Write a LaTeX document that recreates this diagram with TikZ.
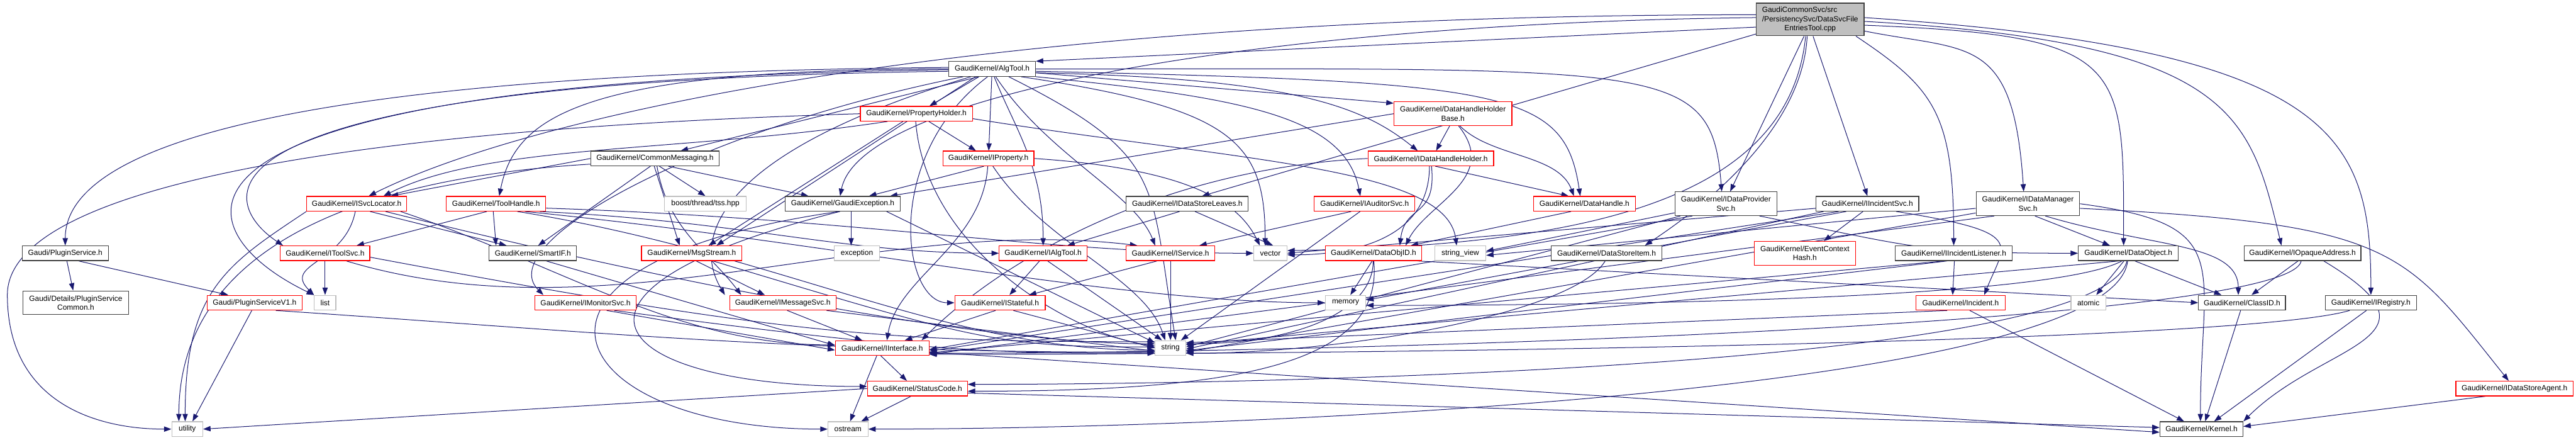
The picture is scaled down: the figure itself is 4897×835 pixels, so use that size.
\documentclass[tikz,border=0pt]{standalone}
\usepackage{fontspec}
\setmainfont{Liberation Sans}
\usetikzlibrary{arrows.meta}
\pgfdeclarelayer{bg}
\pgfsetlayers{bg,main}
\definecolor{edgec}{HTML}{191970}
\definecolor{boxk}{HTML}{404040}
\definecolor{boxr}{HTML}{FF0000}
\definecolor{boxg}{HTML}{BFBFBF}
\newcommand{\nfont}{\fontsize{14.3}{17}\selectfont}
\tikzset{
  nd/.style={draw=boxk, line width=1.4pt, fill=white, inner sep=0pt, align=center, font=\nfont, minimum height=28pt},
  rd/.style={nd, draw=boxr},
  gy/.style={nd, draw=boxg},
  two/.style={minimum height=45pt},
  e/.style={draw=edgec, line width=1.2pt, -{Triangle[length=14pt,width=10pt]}},
}
\begin{document}
\begin{tikzpicture}[x=1pt,y=-1pt]
\useasboundingbox (0,0) rectangle (4897,835);
% ---------- nodes ----------
\node[nd, fill=boxg, minimum width=205pt, minimum height=62pt] (root) at (3441,37) {\rlap{GaudiCommonSvc/src}\phantom{/PersistencySvc/DataSvcFile}\\/PersistencySvc/DataSvcFile\\EntriesTool.cpp};
\node[nd, minimum width=165pt] (algtool) at (1886,131) {GaudiKernel/AlgTool.h};
\node[rd, minimum width=213pt] (propholder) at (1742,216) {GaudiKernel/PropertyHolder.h};
\node[rd, two, minimum width=224pt] (dhhb) at (2762,216) {GaudiKernel/DataHandleHolder\\Base.h};
\node[nd, minimum width=244pt] (commsg) at (1245,301) {GaudiKernel/CommonMessaging.h};
\node[rd, minimum width=173pt] (iprop) at (1879,301) {GaudiKernel/IProperty.h};
\node[rd, minimum width=239pt] (idhh) at (2720,301) {GaudiKernel/IDataHandleHolder.h};
\node[rd, minimum width=190pt] (isvcloc) at (678,387) {GaudiKernel/ISvcLocator.h};
\node[rd, minimum width=189pt] (toolhandle) at (943,387) {GaudiKernel/ToolHandle.h};
\node[gy, minimum width=155pt] (boost) at (1341,387) {boost/thread/tss.hpp};
\node[nd, minimum width=218pt] (gexc) at (1602,387) {GaudiKernel/GaudiException.h};
\node[nd, minimum width=232pt] (idsl) at (2257,387) {GaudiKernel/IDataStoreLeaves.h};
\node[rd, minimum width=191pt] (iaud) at (2594,387) {GaudiKernel/IAuditorSvc.h};
\node[rd, minimum width=194pt] (dh) at (3012,387) {GaudiKernel/DataHandle.h};
\node[nd, two, minimum width=194pt] (idps) at (3281,387) {GaudiKernel/IDataProvider\\Svc.h};
\node[nd, minimum width=195pt] (iis) at (3550,387) {GaudiKernel/IIncidentSvc.h};
\node[nd, two, minimum width=197pt] (idms) at (3855,387) {GaudiKernel/IDataManager\\Svc.h};
\node[nd, minimum width=164pt] (plugin) at (124,481) {Gaudi/PluginService.h};
\node[rd, minimum width=170pt] (itoolsvc) at (618,481) {GaudiKernel/IToolSvc.h};
\node[nd, minimum width=166pt] (smartif) at (1013,481) {GaudiKernel/SmartIF.h};
\node[rd, minimum width=191pt] (msgstream) at (1315,481) {GaudiKernel/MsgStream.h};
\node[gy, minimum width=86pt] (exception) at (1629,481) {exception};
\node[rd, minimum width=167pt] (ialgtool) at (1983,481) {GaudiKernel/IAlgTool.h};
\node[rd, minimum width=169pt] (iservice) at (2225,481) {GaudiKernel/IService.h};
\node[gy, minimum width=63pt] (vector) at (2415,481) {vector};
\node[rd, minimum width=183pt] (dataobjid) at (2611,481) {GaudiKernel/DataObjID.h};
\node[gy, minimum width=97pt] (strview) at (2776,481) {string\_view};
\node[nd, minimum width=211pt] (dsi) at (3054,481) {GaudiKernel/DataStoreItem.h};
\node[rd, two, minimum width=193pt] (ech) at (3431,481) {GaudiKernel/EventContext\\Hash.h};
\node[nd, minimum width=223pt] (iil) at (3714,481) {GaudiKernel/IIncidentListener.h};
\node[nd, minimum width=190pt] (dataobject) at (4046,481) {GaudiKernel/DataObject.h};
\node[nd, minimum width=222pt] (ioa) at (4377,481) {GaudiKernel/IOpaqueAddress.h};
\node[nd, two, minimum width=201pt] (pscommon) at (144,575) {Gaudi/Details/PluginService\\Common.h};
\node[rd, minimum width=181pt] (psv1) at (484,575) {Gaudi/PluginServiceV1.h};
\node[gy, minimum width=41pt] (list) at (618,575) {list};
\node[rd, minimum width=193pt] (imonsvc) at (1113,575) {GaudiKernel/IMonitorSvc.h};
\node[rd, minimum width=202pt] (imsgsvc) at (1488,575) {GaudiKernel/IMessageSvc.h};
\node[rd, minimum width=172pt] (istateful) at (1901,575) {GaudiKernel/IStateful.h};
\node[gy, minimum width=77pt] (memory) at (2558,575) {memory};
\node[rd, minimum width=169pt] (incident) at (3727,575) {GaudiKernel/Incident.h};
\node[gy, minimum width=66pt] (atomic) at (3970,575) {atomic};
\node[nd, minimum width=165pt] (classid) at (4262,575) {GaudiKernel/ClassID.h};
\node[nd, minimum width=173pt] (iregistry) at (4507,575) {GaudiKernel/IRegistry.h};
\node[rd, minimum width=178pt] (iinterface) at (1677,661) {GaudiKernel/IInterface.h};
\node[gy, minimum width=58pt] (string) at (2225,661) {string};
\node[rd, minimum width=190pt] (statuscode) at (1744,738) {GaudiKernel/StatusCode.h};
\node[rd, minimum width=223pt] (idsa) at (4780,738) {GaudiKernel/IDataStoreAgent.h};
\node[gy, minimum width=59pt] (utility) at (356,815) {utility};
\node[gy, minimum width=76pt] (ostream) at (1612,815) {ostream};
\node[nd, minimum width=158pt] (kernel) at (4185,815) {GaudiKernel/Kernel.h};
\coordinate (w1) at (14,560);
% ---------- edges ----------
\begin{pgfonlayer}{bg}
\fill[white] (0,0) rectangle (4897,835);
% root
\draw[e] (root.188) -- (algtool.10);
\draw[e] (root.178) .. controls +(-900,10) and +(40,-200) .. ([xshift=-5pt]gexc.north);
\draw[e] (root.175) .. controls +(-1500,0) and +(300,-150) .. ([xshift=23pt]isvcloc.north);
\draw[e] (root.195) -- ([xshift=28pt]idsl.north);
\draw[e] (root.-100) .. controls +(-10,200) and +(60,-40) .. ([xshift=73pt]dsi.north);
\draw[e] (root.-105) .. controls +(-30,300) and +(600,-10) .. ([yshift=5pt]vector.east);
\draw[e] (root.-110) -- ([xshift=8pt]idps.north);
\draw[e] (root.-80) -- (iis.north);
\draw[e] (root.-20) .. controls +(150,100) and +(0,-250) .. (iil.north);
\draw[e] (root.-12) .. controls +(200,40) and +(-20,-300) .. ([xshift=-8pt]idms.north);
\draw[e] (root.-6) .. controls +(500,20) and +(0,-350) .. ([xshift=-9pt]dataobject.north);
\draw[e] (root.-2) .. controls +(700,40) and +(-60,-250) .. ([xshift=-40pt]ioa.north);
\draw[e] (root.2) .. controls +(900,60) and +(0,-300) .. (iregistry.north);
% AlgTool
\draw[e] (algtool) -- (propholder);
\draw[e] (algtool) -- (iprop);
\draw[e] (algtool.-150) -- ([xshift=49pt]commsg.north);
\draw[e] (algtool.-5) -- (dhhb.170);
\draw[e] (algtool.-5) .. controls +(500,10) and +(-100,-80) .. ([xshift=-25pt]idhh.north);
\draw[e] (algtool.-10) .. controls +(400,40) and +(-30,-150) .. ([xshift=-8pt]iaud.north);
\draw[e] (algtool.-3) .. controls +(900,20) and +(-30,-200) .. ([xshift=-8pt]dh.north);
\draw[e] (algtool.0) .. controls +(1200,0) and +(-20,-250) .. ([xshift=-8pt]idps.north);
\draw[e] (algtool.180) .. controls +(-700,0) and +(30,-150) .. ([xshift=6pt]toolhandle.north);
\draw[e] (algtool.178) .. controls +(-1200,10) and +(0,-200) .. (plugin.north);
\draw[e] (algtool.181) .. controls +(-1600,20) and +(-250,-120) .. (list.north west);
\draw[e] (algtool.183) .. controls +(-1500,20) and +(-120,-80) .. ([xshift=-80pt]itoolsvc.north);
\draw[e] (algtool.-165) .. controls +(-500,100) and +(-100,-100) .. ([xshift=-80pt]imonsvc.north);
\draw[e] (algtool.-160) .. controls +(-500,150) and +(-60,-100) .. ([xshift=-110pt]imsgsvc.north);
\draw[e] (algtool.-155) -- ([xshift=47pt]msgstream.north);
\draw[e] (algtool.-120) .. controls +(-200,150) and +(-100,0) .. (istateful.west);
\draw[e] (algtool.-75) .. controls +(40,100) and +(0,-150) .. (ialgtool.north);
\draw[e] (algtool.-65) .. controls +(100,150) and +(-40,-100) .. ([xshift=-29pt]iservice.north);
\draw[e] (algtool.-15) .. controls +(400,60) and +(0,-200) .. ([xshift=-10pt]vector.north);
\draw[e] (algtool.-25) .. controls +(300,150) and +(-50,-300) .. ([xshift=10pt]string.north);
% PropertyHolder
\draw[e] (propholder) -- (iprop);
\draw[e] (propholder.west) .. controls +(-1000,30) and +(0,-200) .. (w1) .. controls +(0,200) and +(-150,0) .. (utility.west);
\draw[e] (propholder.-165) .. controls +(-400,60) and +(200,-100) .. ([xshift=51pt]isvcloc.north);
\draw[e] (propholder.-150) -- ([xshift=32pt]msgstream.north);
\draw[e] (propholder.-5) .. controls +(500,80) and +(-20,-150) .. ([xshift=-7pt]strview.north);
\draw[e] (propholder.-95) .. controls +(20,250) and +(-150,-20) .. ([yshift=4pt]string.west);
% DataHandleHolderBase
\draw[e] (dhhb.-105) -- ([xshift=10pt]idhh.north);
\draw[e] (dhhb.-60) .. controls +(60,60) and +(-30,-80) .. ([xshift=-20pt]dh.north);
\draw[e] (dhhb.west) -- ([xshift=90pt]gexc.north);
\draw[e] (dhhb.-65) .. controls +(80,100) and +(40,-80) .. ([xshift=61pt]dataobjid.north);
% CommonMessaging
\draw[e] (commsg.-60) -- (boost.north);
\draw[e] (commsg.-30) -- ([xshift=-65pt]gexc.north);
\draw[e] (commsg.west) -- ([xshift=65pt]isvcloc.north);
\draw[e] (commsg.-120) -- ([xshift=10pt]smartif.north);
\draw[e] (commsg.-95) -- ([xshift=-23pt]msgstream.north);
\draw[e] (commsg.-75) .. controls +(20,120) and +(-60,-80) .. ([xshift=-79pt]imsgsvc.north);
\draw[e] (commsg.185) .. controls +(-500,30) and +(0,-300) .. ([xshift=-16pt]utility.north);
% IProperty
\draw[e] (iprop.-120) -- ([xshift=50pt]gexc.north);
\draw[e] (iprop.-95) .. controls +(-10,150) and +(20,-120) .. ([xshift=9pt]iinterface.north);
\draw[e] (iprop.-60) .. controls +(100,150) and +(-40,-120) .. ([xshift=-10pt]string.north);
\draw[e] (iprop.east) .. controls +(300,20) and +(-40,-80) .. ([xshift=-20pt]vector.north);
% IDataHandleHolder
\draw[e] (idhh.-60) -- ([xshift=-30pt]dh.north);
\draw[e] (idhh.-85) .. controls +(10,100) and +(10,-80) .. ([xshift=50pt]dataobjid.north);
\draw[e] (idhh.west) .. controls +(-400,20) and +(150,-150) .. ([xshift=75pt]iinterface.north);
\draw[e] (idhh.-100) .. controls +(0,150) and +(100,0) .. ([yshift=-3pt]vector.east);
% ISvcLocator
\draw[e] (isvcloc.-100) .. controls +(-20,100) and +(-60,-60) .. (list.north west);
\draw[e] (isvcloc.-30) -- ([xshift=-50pt]smartif.north);
\draw[e] (isvcloc.-10) .. controls +(300,100) and +(-300,0) .. ([yshift=6pt]iinterface.west);
\draw[e] (isvcloc.-15) .. controls +(600,150) and +(-300,0) .. ([yshift=8pt]string.west);
\draw[e] (isvcloc.south west) .. controls +(-150,100) and +(0,-250) .. ([xshift=-4pt]utility.north);
% ToolHandle
\draw[e] (toolhandle.-140) -- ([xshift=60pt]itoolsvc.north);
\draw[e] (toolhandle.-10) .. controls +(400,20) and +(-300,0) .. (ialgtool.west);
\draw[e] (toolhandle.-110) -- ([xshift=-70pt]smartif.north);
\draw[e] (toolhandle.-5) .. controls +(600,20) and +(-400,0) .. (vector.west);
\draw[e] (toolhandle.-15) .. controls +(600,60) and +(-400,0) .. (memory.west);
\draw[e] (toolhandle.-20) .. controls +(500,80) and +(-400,0) .. ([yshift=-4pt]string.west);
% GaudiException
\draw[e] ([xshift=16pt]gexc.south) -- ([xshift=-11pt]exception.north);
\draw[e] (gexc.-110) .. controls +(-600,150) and +(-500,0) .. ([yshift=4pt]statuscode.west);
\draw[e] (gexc.-115) .. controls +(-700,100) and +(-500,0) .. (ostream.west);
\draw[e] (gexc.-10) -- ([yshift=10pt]string.west);
% IDataStoreLeaves
\draw[e] (idsl.-135) -- ([xshift=46pt]ialgtool.north);
\draw[e] (idsl.-45) -- ([xshift=5pt]vector.north);
% IAuditorSvc
\draw[e] (iaud.-150) -- ([xshift=55pt]iservice.north);
\draw[e] (iaud.-120) -- ([xshift=20pt]string.north);
% DataHandle
\draw[e] (dh.-150) -- ([xshift=71pt]dataobjid.north);
% IDataProviderSvc
\draw[e] (idps.-20) .. controls +(300,60) and +(-300,0) .. (dataobject.west);
\draw[e] (idps.-160) -- ([yshift=-3pt]iinterface.east);
\draw[e] (idps.-165) -- ([yshift=2pt]string.east);
\draw[e] (idps.-170) -- ([yshift=4pt]strview.east);
% IIncidentSvc
\draw[e] (iis.-120) -- ([xshift=36pt]ech.north);
\draw[e] (iis.-15) .. controls +(250,40) and +(40,-100) .. ([xshift=45pt]incident.north);
\draw[e] (iis.-165) -- ([yshift=-6pt]iinterface.east);
\draw[e] (iis.-160) -- ([yshift=5pt]memory.east);
\draw[e] (iis.-170) -- ([yshift=-2pt]string.east);
\draw[e] (iis.185) -- ([yshift=0pt]vector.east);
% IIncidentListener
\draw[e] (iil.-85) -- ([xshift=-15pt]incident.north);
\draw[e] (iil.-140) -- ([yshift=-9pt]iinterface.east);
\draw[e] (iil.-130) -- ([yshift=-5pt]string.east);
% IDataManagerSvc
\draw[e] (idms.-5) .. controls +(600,30) and +(-200,-250) .. ([xshift=-11pt]idsa.north);
\draw[e] (idms.0) .. controls +(300,40) and +(0,-300) .. ([xshift=-2pt]kernel.north);
\draw[e] (idms.-35) .. controls +(200,60) and +(0,-100) .. ([xshift=-7pt]classid.north);
\draw[e] (idms.-60) -- ([xshift=-35pt]dataobject.north);
\draw[e] (idms.-160) -- ([yshift=-12pt]iinterface.east);
\draw[e] (idms.-170) -- ([yshift=-8pt]string.east);
\draw[e] (idms.-175) -- ([yshift=-4pt]strview.east);
% PluginService
\draw[e] (plugin) -- (pscommon);
\draw[e] (plugin.-30) -- ([xshift=-50pt]psv1.north);
% IToolSvc
\draw[e] (itoolsvc) -- (list);
\draw[e] (itoolsvc.-20) .. controls +(500,150) and +(-500,-60) .. ([xshift=-63pt]iservice.north);
\draw[e] (itoolsvc.-5) .. controls +(800,150) and +(-500,0) .. ([yshift=12pt]string.west);
% PluginServiceV1
\draw[e] (psv1.-110) -- ([xshift=10pt]utility.north);
\draw[e] (psv1.-20) .. controls +(600,40) and +(-700,0) .. ([yshift=-8pt]string.west);
% SmartIF, MsgStream, IMonitorSvc, IMessageSvc
\draw[e] (smartif.-30) -- ([yshift=5pt]iinterface.west);
\draw[e] (msgstream.-60) -- ([xshift=-34pt]imsgsvc.north);
\draw[e] (msgstream.-20) .. controls +(500,150) and +(-300,0) .. ([yshift=2pt]string.west);
\draw[e] (imonsvc.-20) -- ([yshift=-4pt]iinterface.west);
\draw[e] (imonsvc.-15) .. controls +(600,80) and +(-300,0) .. ([yshift=-10pt]string.west);
\draw[e] (imsgsvc.-60) -- ([xshift=-38pt]iinterface.north);
\draw[e] (imsgsvc.-10) -- ([yshift=-6pt]string.west);
% IAlgTool, IService, IStateful
\draw[e] (ialgtool.-115) -- ([xshift=18pt]istateful.north);
\draw[e] (ialgtool.-60) -- ([xshift=-16pt]string.north);
\draw[e] (iservice.-150) -- ([xshift=55pt]istateful.north);
\draw[e] (iservice) -- (string);
\draw[e] (istateful.-120) -- ([xshift=43pt]iinterface.north);
\draw[e] (istateful.-30) -- ([yshift=0pt]string.west);
% IInterface, StatusCode
\draw[e] (iinterface.-100) -- ([xshift=-20pt]statuscode.north);
\draw[e] (iinterface.-125) -- ([xshift=4pt]ostream.north);
\draw[e] (iinterface.-5) -- ([yshift=-6pt]kernel.west);
\draw[e] (statuscode.-130) -- ([xshift=25pt]ostream.north);
\draw[e] (statuscode.west) -- (utility.east);
\draw[e] (statuscode.-5) -- ([yshift=3pt]kernel.west);
% DataObjID, DataStoreItem
\draw[e] (dataobjid.-100) -- ([xshift=9pt]memory.north);
\draw[e] (dataobjid.-10) -- (classid.west);
\draw[e] (dataobjid.-92) .. controls +(0,100) and +(200,0) .. ([yshift=8pt]string.east);
\draw[e] (dataobjid.-88) .. controls +(20,200) and +(500,0) .. ([yshift=-5pt]statuscode.east);
\draw[e] (dsi.-100) .. controls +(-60,100) and +(300,0) .. ([yshift=-10pt]string.east);
% DataObject
\draw[e] (dataobject.-50) -- ([xshift=-39pt]classid.north);
\draw[e] (dataobject.-120) -- ([xshift=15pt]atomic.north);
\draw[e] (dataobject.-100) .. controls +(-50,200) and +(600,0) .. ([yshift=8pt]statuscode.east);
\draw[e] (dataobject.-130) .. controls +(-150,80) and +(300,0) .. ([yshift=-5pt]memory.east);
\draw[e] (dataobject.-95) .. controls +(-30,250) and +(700,0) .. (ostream.east);
\draw[e] (dataobject.-140) -- ([yshift=6pt]string.east);
% Incident, IOpaqueAddress, IRegistry, ClassID, IDataStoreAgent
\draw[e] (incident.-40) -- ([xshift=-33pt]kernel.north);
\draw[e] (incident.-150) -- ([yshift=10pt]string.east);
\draw[e] (ioa.-120) -- ([xshift=18pt]classid.north);
\draw[e] (ioa.-20) .. controls +(250,150) and +(150,-150) .. (kernel.north east);
\draw[e] (ioa.-100) .. controls +(-20,120) and +(800,0) .. ([yshift=-10pt]iinterface.east);
\draw[e] (iregistry.-120) -- ([xshift=24pt]kernel.north);
\draw[e] (iregistry.-160) .. controls +(-200,60) and +(900,0) .. ([yshift=-12pt]iinterface.east);
\draw[e] (classid.-100) -- ([xshift=7pt]kernel.north);
\draw[e] (idsa.-165) -- ([yshift=5pt]kernel.east);
\end{pgfonlayer}
\end{tikzpicture}
\end{document}
